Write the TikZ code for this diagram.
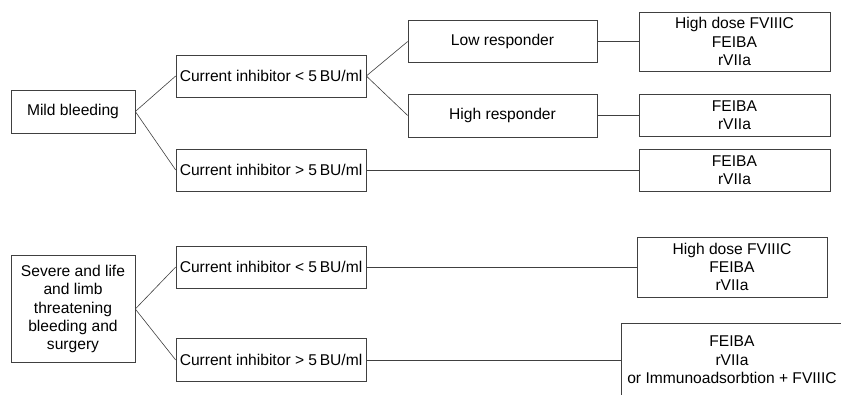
\documentclass[tikz,border=0pt]{standalone}
\usepackage{fontspec}
\setmainfont{Liberation Sans}
\usepackage{tikz}
\tikzset{%
	box/.style={
		draw=black!75,
		line width=0.6pt,
		align=center,
		inner sep=0pt,
		minimum height=42pt,
		font=\fontsize{15.6}{18.3}\selectfont
	},
	cond/.style={box, minimum width=190pt},
	treat/.style={box, minimum width=191pt},
	link/.style={draw=black!75, line width=0.6pt},
}

\begin{document}
\begin{tikzpicture}[x=1pt, y=-1pt]
			\useasboundingbox (0,0) rectangle (841,395);
			\clip (0,0) rectangle (841,395);
			
			% Mild bleeding branch
			\node[box, minimum width=124pt, minimum height=43pt] (mild) at (73,111.5) {Mild bleeding};
			\node[cond] (mildlow) at (271,76) {Current inhibitor < 5\,BU/ml};
			\node[cond] (mildhigh) at (271,170) {Current inhibitor > 5\,BU/ml};
			\node[box, minimum width=189pt] (lowresp) at (502.5,41.5) {Low responder};
			\node[box, minimum width=189pt, minimum height=43pt] (highresp) at (502.5,115.5) {High responder};
			\node[treat, minimum height=59pt] (treatA) at (734.5,41.5) {High dose FVIIIC\\FEIBA\\rVIIa};
			\node[treat] (treatB) at (734.5,115.5) {FEIBA\\rVIIa};
			\node[treat] (treatC) at (734.5,170) {FEIBA\\rVIIa};
			
			\draw[link] (mild.east) -- (mildlow.west);
			\draw[link] (mild.east) -- (mildhigh.west);
			\draw[link] (mildlow.east) -- (lowresp.west);
			\draw[link] (mildlow.east) -- (highresp.west);
			\draw[link] (lowresp.east) -- (treatA.west);
			\draw[link] (highresp.east) -- (treatB.west);
			\draw[link] (mildhigh.east) -- (treatC.west);
			
			% Severe bleeding branch
			\node[box, minimum width=124pt, minimum height=107pt] (severe) at (73,309) {Severe and life\\and limb\\threatening\\bleeding and\\surgery};
			\node[cond] (sevlow) at (271,267) {Current inhibitor < 5\,BU/ml};
			\node[cond, minimum height=43pt] (sevhigh) at (271,360) {Current inhibitor > 5\,BU/ml};
			\node[box, minimum width=190pt, minimum height=60pt] (treatD) at (732,267) {High dose FVIIIC\\FEIBA\\rVIIa};
			\node[box, minimum width=222pt, minimum height=74pt] (treatE) at (732,360) {FEIBA\\rVIIa\\or Immunoadsorbtion + FVIIIC};
			
			\draw[link] (severe.east) -- (sevlow.west);
			\draw[link] (severe.east) -- (sevhigh.west);
			\draw[link] (sevlow.east) -- (treatD.west);
			\draw[link] (sevhigh.east) -- (treatE.west);
\end{tikzpicture}
\end{document}
